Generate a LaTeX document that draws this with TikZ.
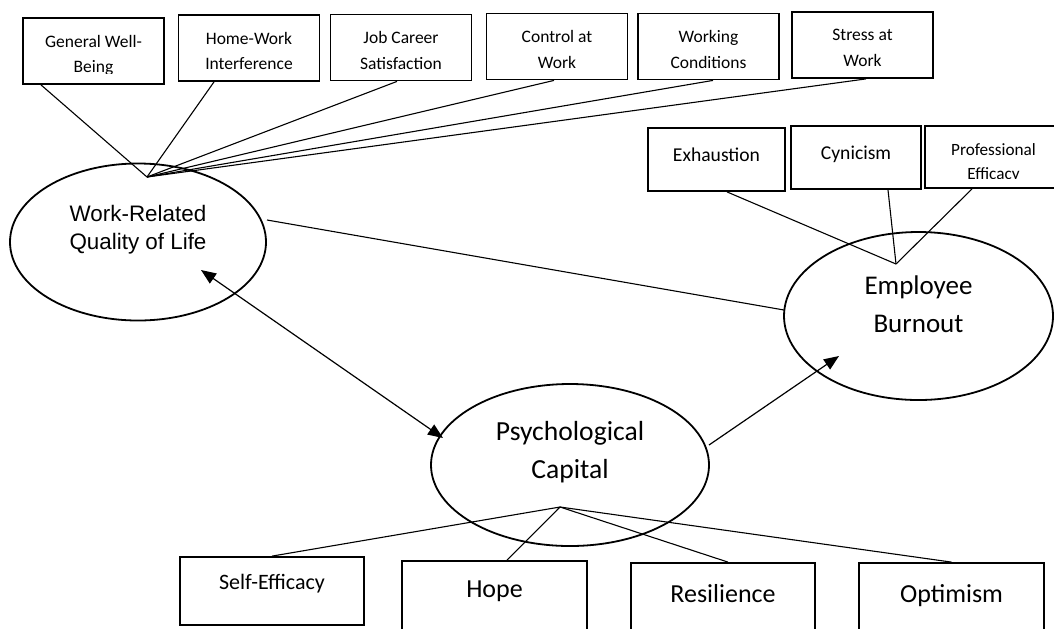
\documentclass[tikz,border=0pt]{standalone}
\usepackage{fontspec}
\setmainfont{Carlito}
\newfontfamily\arialfont{Liberation Sans}
\usetikzlibrary{shapes.geometric, arrows.meta, calc}

\begin{document}
\begin{tikzpicture}[x=0.5pt, y=-0.5pt,
        indicator/.style={draw, line width=0.9pt, rectangle, inner sep=0pt},
        construct/.style={draw, line width=0.9pt, ellipse, inner sep=0pt},
        boxtext/.style={inner sep=0pt, align=center},
        link/.style={line width=0.55pt},
        effect/.style={line width=0.6pt, -{Triangle[length=7.5pt,width=6pt]}}]
        \useasboundingbox (0,0) rectangle (1054,628);

        % Latent constructs
        \node[construct, minimum width=128pt, minimum height=78.5pt] (wrql) at (138,242) {};
        \node[construct, minimum width=134.5pt, minimum height=84pt] (burnout) at (918.5,316) {};
        \node[construct, minimum width=139pt, minimum height=81pt] (psycap) at (570,465) {};

        \node[boxtext, font=\arialfont\fontsize{11.2}{14.25}\selectfont] at ($(wrql)+(0,-12.5)$) {Work-Related\\Quality of Life};
        \node[boxtext, font=\fontsize{13.5}{19}\selectfont] at ($(burnout)+(0,-12)$) {Employee\\Burnout};
        \node[boxtext, font=\fontsize{13.8}{18.75}\selectfont] at ($(psycap)+(0,-13)$) {Psychological\\Capital};

        \coordinate (wrqlhub) at ($(wrql)+(9,-65)$);
        \coordinate (burnouthub) at ($(burnout)+(-22.5,-52)$);
        \coordinate (psycaphub) at ($(psycap)+(-10,42)$);

        % Quality of life items
        \foreach \name/\cx/\cy/\dx/\txt in {
            gwb/93.5/51/-52.5/{General Well-\\Being},
            hwi/249/48/-35/{Home-Work\\Interference},
            jcs/401/47.5/-4/{Job Career\\Satisfaction},
            ctrl/557/46.5/-3/{Control at\\Work},
            wcond/708.5/46.5/4.5/{Working\\Conditions},
            stress/862.5/45/3.5/{Stress at\\Work}} {
            \node[indicator, minimum width=70.5pt, minimum height=33pt] (\name) at (\cx,\cy) {};
            \begin{scope}
                \clip (\name.north west) rectangle ($(\name.south east)+(0,-11)$);
                \node[boxtext, text depth=0pt, font=\fontsize{8.75}{12.75}\selectfont] at ($(\name)+(0,3)$) {\txt};
            \end{scope}
            \draw[link] ($(\name.south)+(\dx,0)$) -- (wrqlhub);
        }

        % Burnout items
        \node[indicator, minimum width=68.5pt, minimum height=31.5pt, font=\fontsize{9.8}{12}\selectfont,
            text height=7pt, text depth=5.2pt] (exh) at (716.5,159.5) {Exhaustion};
        \node[indicator, minimum width=65pt, minimum height=31.5pt, font=\fontsize{9.8}{12}\selectfont,
            text height=7pt, text depth=5.2pt] (cyn) at (856,157.5) {Cynicism};
        \node[indicator, minimum width=68.5pt, minimum height=31pt] (prof) at (993.5,157) {};
        \begin{scope}
            \clip (prof.north west) rectangle ($(prof.south east)+(0,-10)$);
            \node[boxtext, text depth=0pt, font=\fontsize{8.6}{12}\selectfont] at ($(prof)+(0,5)$) {Professional\\Efficacy};
        \end{scope}

        \draw[link] ($(exh.south)+(10.5,0)$) -- (burnouthub);
        \draw[link] ($(cyn.south)+(32,0)$) -- (burnouthub);
        \draw[link] ($(prof.south)+(-21.5,0)$) -- (burnouthub);

        % Psychological capital items
        \node[indicator, minimum width=92pt, minimum height=34pt, font=\fontsize{11}{13}\selectfont,
            text height=7.7pt, text depth=9.2pt] (selfeff) at (272,591) {Self-Efficacy};
        \node[indicator, minimum width=92.5pt, minimum height=40pt, font=\fontsize{13}{15}\selectfont,
            text height=9.1pt, text depth=12.3pt] (hope) at (494.5,601) {Hope};
        \node[indicator, minimum width=92pt, minimum height=40pt, font=\fontsize{13}{15}\selectfont,
            text height=9.1pt, text depth=9.3pt] (resil) at (723,603) {Resilience};
        \node[indicator, minimum width=92.5pt, minimum height=40pt, font=\fontsize{13}{15}\selectfont,
            text height=9.1pt, text depth=9.3pt] (optim) at (951.5,603) {Optimism};

        \draw[link] (selfeff.north) -- (psycaphub);
        \draw[link] ($(hope.north)+(12.5,0)$) -- (psycaphub);
        \draw[link] ($(resil.north)+(5,0)$) -- (psycaphub);
        \draw[link] (optim.north) -- (psycaphub);

        % Structural paths
        \draw[link] ($(wrql)+(129,-22)$) -- ($(burnout)+(-134.5,-6)$);
        \draw[effect, {Triangle[length=7.5pt,width=6pt]}-{Triangle[length=7.5pt,width=6pt]}]
            ($(wrql)+(63,28)$) -- ($(psycap)+(-127,-27)$);
        \draw[effect] ($(psycap)+(139,-20)$) -- ($(burnout)+(-79.5,40)$);

    \end{tikzpicture}
\end{document}
